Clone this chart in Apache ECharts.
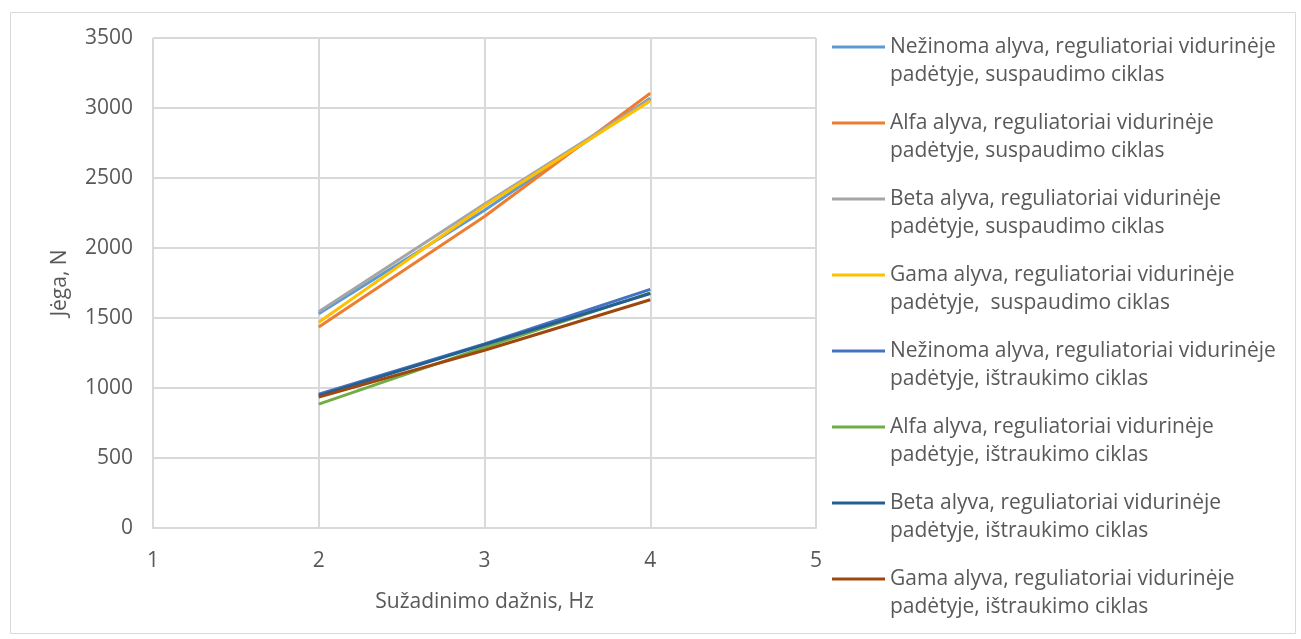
<!DOCTYPE html>
<html>
<head>
<meta charset="utf-8">
<script src="https://cdn.jsdelivr.net/npm/echarts@6/dist/echarts.min.js"></script>
<style>
html,body{margin:0;padding:0;background:#fff;}
#chart{width:1301px;height:639px;}
</style>
</head>
<body>
<div id="chart"></div>
<script>
const xValues = [2, 3, 4];
const seriesNames = [
  "Nežinoma alyva, reguliatoriai vidurinėje\npadėtyje, suspaudimo ciklas",
  "Alfa alyva, reguliatoriai vidurinėje\npadėtyje, suspaudimo ciklas",
  "Beta alyva, reguliatoriai vidurinėje\npadėtyje, suspaudimo ciklas",
  "Gama alyva, reguliatoriai vidurinėje\npadėtyje,  suspaudimo ciklas",
  "Nežinoma alyva, reguliatoriai vidurinėje\npadėtyje, ištraukimo ciklas",
  "Alfa alyva, reguliatoriai vidurinėje\npadėtyje, ištraukimo ciklas",
  "Beta alyva, reguliatoriai vidurinėje\npadėtyje, ištraukimo ciklas",
  "Gama alyva, reguliatoriai vidurinėje\npadėtyje, ištraukimo ciklas"
];
const nezinomaSusp = [1530, 2270, 3070];
const alfaSusp     = [1435, 2225, 3105];
const betaSusp     = [1545, 2315, 3060];
const gamaSusp     = [1470, 2300, 3050];
const nezinomaIst  = [955, 1315, 1705];
const alfaIst      = [885, 1290, 1680];
const betaIst      = [945, 1310, 1675];
const gamaIst      = [935, 1270, 1630];
const allValues = [nezinomaSusp, alfaSusp, betaSusp, gamaSusp, nezinomaIst, alfaIst, betaIst, gamaIst];
const colors = ['#5B9BD5', '#ED7D31', '#A5A5A5', '#FFC000', '#4472C4', '#70AD47', '#255E91', '#9E480E'];

const font = 'Open Sans';
const txt = '#595959';
const chart = echarts.init(document.getElementById('chart'));
chart.setOption({
  backgroundColor: '#ffffff',
  animation: false,
  color: colors,
  graphic: [{
    type: 'rect', left: 8, top: 10,
    shape: { width: 1285, height: 621 },
    style: { fill: 'none', stroke: '#D9D9D9', lineWidth: 1 }
  }],
  grid: { left: 153, right: 485, top: 38, bottom: 111, containLabel: false },
  xAxis: {
    type: 'value', min: 1, max: 5, interval: 1,
    name: 'Sužadinimo dažnis, Hz', nameLocation: 'middle', nameGap: 64,
    nameTextStyle: { color: txt, fontSize: 21, fontFamily: font },
    axisLine: { show: true, lineStyle: { color: '#D9D9D9', width: 2 } },
    axisTick: { show: false },
    axisLabel: { color: txt, fontSize: 21, fontFamily: font, margin: 23 },
    splitLine: { show: true, lineStyle: { color: '#D9D9D9', width: 2 } }
  },
  yAxis: {
    type: 'value', min: 0, max: 3500, interval: 500,
    name: 'Jėga, N', nameLocation: 'middle', nameGap: 82, nameRotate: 90,
    nameTextStyle: { color: txt, fontSize: 21, fontFamily: font },
    axisLine: { show: false },
    axisTick: { show: false },
    axisLabel: { color: txt, fontSize: 21, fontFamily: font, margin: 20, formatter: v => String(v) },
    splitLine: { show: true, lineStyle: { color: '#D9D9D9', width: 2 } }
  },
  legend: {
    orient: 'vertical', left: 827, top: 28,
    itemWidth: 53, itemHeight: 56, itemGap: 20,
    icon: 'path://M0,12.5H53V15.5H0Z M0,0H0.01V0.01H0Z M0,55.99H0.01V56H0Z',
    textStyle: { color: txt, fontSize: 21, fontFamily: font, lineHeight: 28 },
    data: seriesNames
  },
  series: seriesNames.map((n, i) => ({
    name: n, type: 'line', showSymbol: false, symbol: 'none',
    lineStyle: { width: 3, color: colors[i] },
    itemStyle: { color: colors[i] },
    data: xValues.map((x, j) => [x, allValues[i][j]])
  }))
});
</script>
</body>
</html>
